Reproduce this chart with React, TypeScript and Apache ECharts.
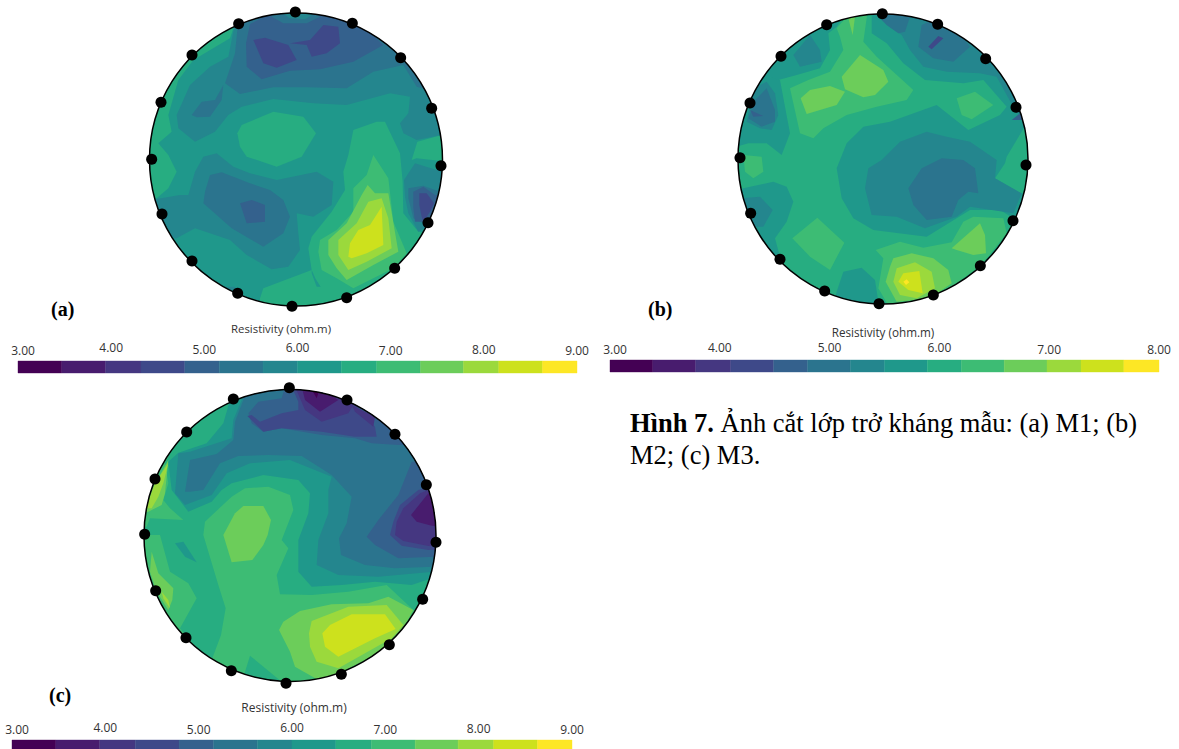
import React, { useEffect, useRef } from "react";
import * as echarts from "echarts";

const palette = ["#440154","#481c6e","#453781","#3e4989","#34618d","#2b748e","#24868e","#1f988b","#27ad81","#3dbc74","#6ccd5a","#9bd93c","#cde11d","#fde725"];

const electrodesA = [[466,36],[296,71],[156,165],[63,307],[35,478],[66,642],[156,783],[293,880],[456,919],[620,893],[764,805],[864,668],[903,497],[875,325],[782,173],[637,70]];
const electrodesB = [[457,41],[290,74],[153,169],[60,309],[30,473],[62,640],[150,778],[284,873],[447,911],[610,885],[751,797],[849,662],[888,495],[858,322],[767,176],[623,73]];
const electrodesC = [[463,23],[295,57],[155,156],[60,297],[29,463],[62,632],[153,773],[289,872],[453,910],[619,883],[763,794],[863,658],[903,487],[874,314],[780,163],[636,60]];

const discA = [468, 478.5, 439.5, 7];
const discB = [459, 477, 435, 8];
const discC = [465, 466.5, 438, 9];

const contoursA: [number, number[][]][] = [
  [8, [[285,70],[270,115],[160,180],[115,240],[85,345],[95,395],[55,430],[85,465],[110,515],[85,565],[50,595],[0,595],[0,0],[285,0]]],
  [8, [[292,400],[305,375],[400,335],[490,350],[528,400],[485,470],[410,500],[320,470],[300,440]]],
  [8, [[625,465],[640,390],[710,365],[735,365],[780,460],[788,545],[790,640],[835,695],[860,700],[800,1000],[350,1000],[360,895],[370,865],[515,810],[505,745],[515,710],[575,635],[615,570],[610,515]]],
  [8, [[815,480],[832,425],[905,405],[960,400],[960,490],[830,475]]],
  [7, [[515,810],[527,837],[542,860],[530,860],[515,820]]],
  [6, [[240,860],[285,860],[290,880],[270,885],[230,870]]],
  [6, [[150,255],[110,345],[115,385],[165,425],[225,395],[265,345],[305,320],[400,297],[520,310],[620,315],[750,280],[810,290],[805,340],[780,370],[790,400],[830,420],[905,405],[960,300],[960,0],[285,0],[285,70],[275,120],[265,170],[210,200]]],
  [5, [[155,345],[185,305],[225,300],[250,255],[245,300],[210,350],[170,352]]],
  [5, [[295,60],[285,160],[255,250],[300,282],[400,262],[500,262],[620,265],[700,215],[790,195],[830,260],[900,280],[960,280],[960,0],[295,0]]],
  [4, [[330,72],[318,130],[320,200],[365,238],[450,212],[540,208],[640,185],[730,135],[650,60],[560,20],[430,20]]],
  [5, [[395,50],[430,70],[500,70],[540,50],[500,25],[400,25]]],
  [6, [[430,42],[450,55],[495,58],[525,40],[500,25],[430,25]]],
  [3, [[340,120],[375,113],[445,135],[470,180],[410,203],[370,190]]],
  [3, [[450,130],[510,120],[550,75],[595,80],[600,130],[560,160],[515,170],[500,135]]],
  [6, [[792,540],[825,490],[890,510],[960,520],[960,680],[860,680],[835,695],[805,640],[795,590]]],
  [5, [[805,565],[850,557],[900,575],[960,575],[960,680],[850,670],[820,655],[805,595]]],
  [4, [[820,575],[850,560],[885,585],[960,590],[960,680],[860,665],[825,665],[820,625]]],
  [3, [[838,580],[860,580],[882,610],[870,635],[850,665],[845,650],[838,615]]],
  [6, [[0,600],[50,597],[120,585],[145,585],[165,515],[190,470],[230,460],[280,500],[330,520],[410,540],[530,515],[580,545],[575,615],[520,650],[470,640],[475,700],[480,750],[445,800],[395,808],[320,765],[270,720],[165,685],[110,715],[0,715]]],
  [5, [[195,575],[210,525],[245,517],[330,550],[390,570],[430,600],[450,650],[430,700],[370,740],[275,685],[190,610]]],
  [4, [[300,610],[335,600],[375,615],[375,665],[320,670]]],
  [9, [[535,755],[540,720],[590,690],[640,635],[640,565],[680,525],[700,465],[745,535],[760,665],[800,760],[760,805],[640,865],[590,835],[545,810]]],
  [10, [[565,765],[565,720],[620,670],[665,585],[683,555],[705,580],[745,580],[775,755],[700,795],[620,840],[590,805]]],
  [11, [[595,765],[595,720],[650,670],[685,605],[725,595],[745,655],[755,745],[680,785],[625,810]]],
  [12, [[625,770],[630,730],[655,690],[690,675],[725,620],[730,735],[680,760],[635,775]]],
];

const contoursB: [number, number[][]][] = [
  [7, [[425,100],[470,130],[520,190],[585,240],[700,250],[760,240],[830,320],[810,345],[715,390],[620,315],[480,365],[400,380],[350,430],[320,505],[335,595],[370,655],[430,690],[590,710],[680,655],[720,630],[810,630],[850,655],[960,655],[960,0],[425,0]]],
  [8, [[830,470],[860,420],[890,370],[960,370],[960,580],[870,580],[795,535],[825,490]]],
  [9, [[320,85],[350,50],[412,40],[400,125],[440,170],[550,270],[530,300],[440,320],[350,345],[280,385],[250,415],[210,400],[180,265],[235,240],[300,215],[340,150],[330,110]]],
  [10, [[355,55],[375,50],[368,105]]],
  [10, [[335,230],[390,165],[460,210],[475,245],[435,285],[400,292],[345,268]]],
  [10, [[212,295],[240,270],[300,258],[345,275],[320,315],[230,342]]],
  [9, [[680,295],[735,275],[790,315],[725,358],[695,345]]],
  [6, [[450,30],[470,75],[515,105],[540,150],[580,200],[650,215],[750,220],[800,230],[860,340],[960,340],[960,0],[450,0]]],
  [5, [[440,45],[470,75],[505,100],[525,95],[540,50],[500,25]]],
  [5, [[575,75],[565,140],[610,175],[670,185],[720,140],[680,90],[620,55]]],
  [3, [[595,140],[625,108],[640,115],[605,148]]],
  [4, [[845,360],[870,340],[880,360]]],
  [6, [[405,565],[415,505],[455,480],[510,425],[590,395],[650,410],[720,425],[800,480],[795,535],[875,580],[850,640],[720,620],[680,650],[585,685],[500,650],[425,645]]],
  [5, [[535,565],[575,505],[635,475],[700,480],[735,505],[745,580],[715,575],[685,600],[665,650],[590,660],[550,615]]],
  [7, [[0,400],[30,400],[50,290],[95,225],[145,240],[200,225],[270,205],[300,150],[295,100],[320,80],[345,40],[200,0],[0,200]]],
  [7, [[50,290],[95,225],[150,240],[165,320],[180,400],[155,465],[110,430],[55,430],[20,440]]],
  [6, [[190,165],[240,105],[270,150],[275,185],[210,200]]],
  [6, [[70,265],[110,245],[135,280],[145,345],[125,390],[90,385],[50,365]]],
  [5, [[75,300],[110,265],[135,330],[135,365],[95,380],[55,355]]],
  [4, [[60,330],[100,348],[70,350]]],
  [9, [[40,465],[95,470],[100,515],[70,535],[45,515]]],
  [7, [[0,580],[40,565],[130,545],[170,560],[190,605],[170,665],[135,715],[150,770],[0,720]]],
  [6, [[30,595],[90,590],[128,630],[100,680],[30,680]]],
  [9, [[187,715],[262,653],[343,728],[300,810],[240,770]]],
  [7, [[320,875],[340,815],[395,803],[435,840],[445,905],[430,950],[300,950]]],
  [9, [[437,750],[510,725],[580,743],[665,727],[700,665],[730,650],[820,655],[830,700],[770,775],[740,805],[660,865],[590,905],[480,925],[445,865],[460,775]]],
  [10, [[480,800],[490,775],[545,760],[610,775],[655,810],[665,850],[600,895],[500,905],[467,845]]],
  [11, [[490,845],[500,805],[555,787],[605,815],[615,865],[560,895],[510,885]]],
  [12, [[505,845],[520,820],[568,813],[578,880],[535,870]]],
  [13, [[520,845],[530,838],[538,847],[528,855]]],
  [10, [[665,745],[750,670],[765,705],[768,760],[730,765],[680,750]]],
];

const contoursC: [number, number[][]][] = [
  [8, [[135,745],[190,810],[232,835],[258,765],[272,685],[250,615],[205,465],[210,425],[290,350],[330,325],[400,320],[465,345],[475,390],[440,480],[460,505],[425,585],[435,643],[530,645],[640,635],[755,615],[835,690],[960,690],[960,0],[0,0],[0,745]]],
  [7, [[285,60],[265,130],[215,190],[130,218],[100,245],[110,330],[160,395],[230,365],[260,330],[290,310],[385,285],[490,300],[525,340],[520,400],[490,480],[490,535],[490,575],[530,620],[620,615],[720,605],[830,615],[890,595],[960,595],[960,0],[285,0]]],
  [6, [[320,60],[295,120],[290,175],[165,215],[130,220],[120,340],[150,375],[230,345],[275,280],[345,250],[465,240],[590,290],[580,330],[580,400],[550,480],[545,555],[610,585],[730,590],[895,575],[960,575],[960,0],[320,0]]],
  [5, [[325,60],[300,125],[295,180],[245,222],[165,240],[150,335],[165,335],[205,330],[255,250],[310,228],[400,225],[500,228],[590,285],[650,350],[635,430],[612,475],[618,525],[690,555],[780,565],[895,560],[960,560],[960,0],[325,0]]],
  [4, [[450,20],[440,55],[370,65],[340,100],[350,130],[385,155],[440,145],[560,165],[660,175],[710,190],[790,195],[960,195],[960,0],[450,0]]],
  [3, [[337,108],[350,105],[375,125],[440,100],[490,90],[490,65],[470,20],[650,60],[720,140],[725,170],[660,170],[560,155],[440,145],[385,155]]],
  [2, [[480,20],[510,90],[560,125],[640,100],[655,75],[600,30],[520,15]]],
  [2, [[650,75],[720,110],[715,140],[660,95]]],
  [1, [[500,20],[510,60],[555,95],[610,60],[560,25]]],
  [0, [[528,25],[555,25],[545,55]]],
  [4, [[695,470],[730,420],[790,345],[830,245],[960,245],[960,530],[900,530],[790,535],[720,495]]],
  [3, [[795,375],[850,330],[885,320],[960,320],[960,510],[880,510],[800,497],[765,465],[775,425]]],
  [2, [[805,385],[855,340],[885,328],[960,330],[960,500],[880,498],[805,483],[780,465],[785,425]]],
  [1, [[828,405],[880,340],[960,340],[960,445],[890,437],[845,425]]],
  [9, [[0,440],[35,440],[45,415],[145,420],[105,385],[85,360],[100,310],[90,250],[100,230],[0,300]]],
  [10, [[0,400],[30,400],[50,330],[100,240],[90,340],[80,375],[40,395]]],
  [11, [[0,385],[35,380],[60,310],[100,250],[85,310],[70,350],[50,385]]],
  [9, [[0,465],[75,465],[105,575],[160,610],[185,655],[135,745],[0,720]]],
  [10, [[50,515],[70,580],[115,625],[112,660],[100,690],[65,635],[45,575]]],
  [11, [[80,635],[100,660],[105,685],[85,655]]],
  [7, [[120,490],[145,485],[185,547],[150,530]]],
  [8, [[330,875],[345,827],[440,905],[400,950],[330,920]]],
  [10, [[265,465],[300,400],[325,378],[385,378],[408,420],[398,465],[385,495],[352,540],[290,547]]],
  [10, [[432,750],[445,725],[495,693],[590,673],[700,670],[760,650],[835,690],[810,735],[760,805],[620,875],[550,900],[480,860],[465,815]]],
  [11, [[522,760],[530,723],[640,680],[755,675],[805,735],[770,775],[610,865],[545,845],[525,800]]],
  [12, [[562,760],[585,735],[650,703],[750,703],[782,747],[720,775],[610,830],[570,800]]],
];

const barEdges9 = [3,3.47,3.94,4.32,4.79,5.16,5.63,6,6.47,6.85,7.32,7.78,8.16,8.63,9];
const barEdges8 = [3,3.39,3.78,4.1,4.49,4.8,5.19,5.5,5.89,6.2,6.59,6.98,7.29,7.68,8];
const raiseA = [0,3,1,3,0,1,0];
const raiseB = [0,2,2,2,0,0];
const raiseC = [0,2,0,2,0,1,0];

const FONT = "Open Sans";
const SERIF = "Liberation Serif";

function discSeries(idx: number, disc: number[], contours: [number, number[][]][]) {
  return {
    type: "custom", xAxisIndex: idx, yAxisIndex: idx, clip: false, silent: true,
    data: [[disc[0], disc[1]]], encode: { x: 0, y: 1 }, z: 2,
    renderItem: (_p: any, api: any) => {
      const c = api.coord([disc[0], disc[1]]);
      const r = api.size([disc[2], 0])[0];
      return {
        type: "group",
        children: [
          {
            type: "group",
            clipPath: { type: "circle", shape: { cx: c[0], cy: c[1], r } },
            children: [
              { type: "circle", shape: { cx: c[0], cy: c[1], r }, style: { fill: palette[disc[3]] } },
              ...contours.map(([lvl, pts]) => ({
                type: "polygon",
                shape: { points: pts.map((p) => api.coord(p)) },
                style: { fill: palette[lvl] },
              })),
            ],
          },
          { type: "circle", shape: { cx: c[0], cy: c[1], r }, style: { fill: "none", stroke: "#000", lineWidth: 1.5 } },
        ],
      };
    },
  };
}

function barSeries(idx: number, edges: number[]) {
  return {
    type: "custom", xAxisIndex: idx, yAxisIndex: idx, clip: false, silent: true,
    data: edges.slice(0, -1).map((e, i) => [e, edges[i + 1], i]),
    encode: { x: [0, 1] },
    renderItem: (_p: any, api: any) => {
      const a = api.coord([api.value(0), 0]);
      const b = api.coord([api.value(1), 1]);
      const col = palette[api.value(2)];
      return { type: "rect", shape: { x: a[0], y: b[1], width: b[0] - a[0], height: a[1] - b[1] }, style: { fill: col, stroke: col, lineWidth: 0.4 } };
    },
  };
}

function barAxis(gridIndex: number, max: number, raise: number[]) {
  return {
    type: "value", gridIndex, position: "top", min: 3, max, interval: 1,
    axisLine: { show: false }, axisTick: { show: false }, splitLine: { show: false },
    axisLabel: {
      margin: 5,
      formatter: (v: number) => {
        const i = Math.round(v - 3);
        return `{${i === 0 ? "f" : "r"}${raise[i]}|${v.toFixed(2)}}`;
      },
      rich: Object.fromEntries(
        [0, 1, 2, 3].flatMap((n) => [
          [`r${n}`, { fontFamily: FONT, fontSize: 12, color: "#333", padding: [0, 0, n, 0] }],
          [`f${n}`, { fontFamily: FONT, fontSize: 12, color: "#333", padding: [0, 0, n, 10] }],
        ])
      ),
    },
  };
}

const discAxisX = (gridIndex: number) => ({ type: "value", gridIndex, min: 0, max: 930, show: false });
const discAxisY = (gridIndex: number) => ({ type: "value", gridIndex, min: 0, max: 945, inverse: true, show: false });
const unitAxisY = (gridIndex: number) => ({ type: "value", gridIndex, min: 0, max: 1, show: false });

function scatter(idx: number, pts: number[][]) {
  return { type: "scatter", xAxisIndex: idx, yAxisIndex: idx, data: pts, symbol: "circle", symbolSize: 11, clip: false, silent: true, z: 5, itemStyle: { color: "#000", opacity: 1 } };
}

const txt = (x: number, y: number, text: string, font: any) => ({ type: "text", x, y, style: { text, fill: "#333", ...font } });
const resLabel = (fontSize: number) => ({ fontFamily: FONT, fontSize, textAlign: "center", textVerticalAlign: "middle", fill: "#333" });
const panelLabel = { fontFamily: SERIF, fontSize: 20, fontWeight: "bold", fill: "#000", textVerticalAlign: "middle" };

export default function App() {
  const ref = useRef<HTMLDivElement>(null);
  useEffect(() => {
    const chart = echarts.init(ref.current!, undefined, { renderer: "svg" });
    chart.setOption({
      animation: false,
      backgroundColor: "#fff",
      grid: [
        { left: 140, top: 0, width: 310, height: 315 },
        { left: 730, top: 0, width: 310, height: 315 },
        { left: 135, top: 380, width: 310, height: 315 },
        { left: 18, top: 361, width: 559, height: 12 },
        { left: 610, top: 360, width: 549, height: 12 },
        { left: 12, top: 740, width: 560, height: 10 },
      ],
      xAxis: [discAxisX(0), discAxisX(1), discAxisX(2), barAxis(3, 9, raiseA), barAxis(4, 8, raiseB), barAxis(5, 9, raiseC)],
      yAxis: [discAxisY(0), discAxisY(1), discAxisY(2), unitAxisY(3), unitAxisY(4), unitAxisY(5)],
      series: [
        discSeries(0, discA, contoursA), discSeries(1, discB, contoursB), discSeries(2, discC, contoursC),
        scatter(0, electrodesA), scatter(1, electrodesB), scatter(2, electrodesC),
        barSeries(3, barEdges9), barSeries(4, barEdges8), barSeries(5, barEdges9),
      ],
      graphic: [
        txt(281, 328, "Resistivity (ohm.m)", resLabel(11.4)),
        txt(883, 332, "Resistivity (ohm.m)", resLabel(11.7)),
        txt(294, 707, "Resistivity (ohm.m)", resLabel(12)),
        txt(51, 309, "(a)", panelLabel),
        txt(648, 309, "(b)", panelLabel),
        txt(49, 695, "(c)", panelLabel),
        {
          type: "text", x: 630, y: 423,
          style: {
            text: "{b|Hình 7. }{n|Ảnh cắt lớp trở kháng mẫu: (a) M1; (b)}",
            textVerticalAlign: "middle",
            rich: {
              b: { fontFamily: SERIF, fontSize: 26.5, fontWeight: "bold", fill: "#000" },
              n: { fontFamily: SERIF, fontSize: 26.5, fill: "#000" },
            },
          },
        },
        { type: "text", x: 630, y: 455, style: { text: "M2; (c) M3.", fontFamily: SERIF, fontSize: 26.5, fill: "#000", textVerticalAlign: "middle" } },
      ],
    });
    return () => chart.dispose();
  }, []);
  return <div ref={ref} style={{ position: "absolute", left: 0, top: 0, width: 1179, height: 749, overflow: "hidden" }} />;
}
